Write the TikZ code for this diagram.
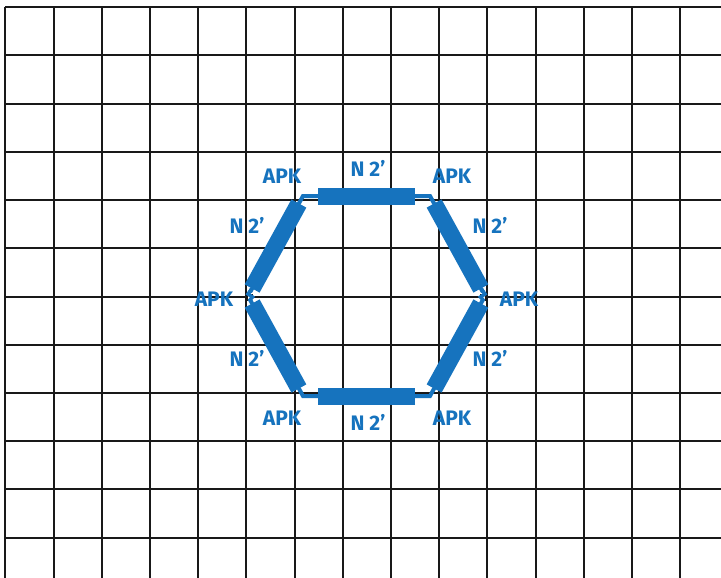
\documentclass[tikz,border=0pt]{standalone}
\usepackage{fontspec}
\newfontfamily\lblfont{Fira Sans}
\usetikzlibrary{calc}
\definecolor{hexblue}{RGB}{22,115,190}
\tikzset{
  gridline/.style={line width=2pt, black!90},
  lead/.style={line width=4pt, hexblue, line join=miter},
  jog/.style={line width=3.5pt, hexblue, line join=miter},
  bar/.style={line width=17pt, hexblue, line cap=butt},
  lbl/.style={font=\lblfont\bfseries\fontsize{21}{21}\selectfont, text=hexblue, inner sep=0pt, anchor=base}
}
\begin{document}
\begin{tikzpicture}[x=1pt,y=-1pt]
\useasboundingbox (0,0) rectangle (721,578);
\fill[white] (0,0) rectangle (721,578);
% grid
\foreach \k in {0,...,14} {
  \draw[gridline] ({5.3+48.2*\k},7.3) -- ({5.3+48.2*\k},578);
}
\foreach \k in {0,...,11} {
  \draw[gridline] (5.3,{7.3+48.2*\k}) -- (721,{7.3+48.2*\k});
}
% hexagon vertices
\coordinate (vL)  at (248,296);
\coordinate (vTL) at (303,196);
\coordinate (vTR) at (430,196);
\coordinate (vR)  at (485,296);
\coordinate (vBR) at (430,396);
\coordinate (vBL) at (303,396);
% leads
\draw[lead] (vL) -- (vTL) -- (vTR) -- (vR) -- (vBR) -- (vBL) -- cycle;
% bars
\foreach \a/\b/\n in {vL/vTL/e1, vTL/vTR/e2, vTR/vR/e3, vR/vBR/e4, vBR/vBL/e5, vBL/vL/e6} {
  \coordinate (\n) at ($(\a)!0.5!(\b)$);
  \draw[bar] ($(\n)!48.5pt!(\a)$) -- ($(\n)!48.5pt!(\b)$);
}
% small jogs at the side vertices
\fill[white] ($(vL)+(-2,-3)$) rectangle ($(vL)+(4,3)$);
\draw[gridline] ($(vL)+(-1.5,-4)$) -- ($(vL)+(-1.5,5)$);
\draw[gridline] ($(vL)+(-3,-1)$) -- ($(vL)+(5,-1)$);
\draw[jog] ($(vL)+(3.5,-7)$) -- ($(vL)+(0,-2)$) -- ($(vL)+(4.5,1)$) -- ($(vL)+(1,5)$);
\fill[white] ($(vR)+(-4,-3)$) rectangle ($(vR)+(2,3)$);
\draw[gridline] ($(vR)+(1,-4)$) -- ($(vR)+(1,5)$);
\draw[gridline] ($(vR)+(-5,-1)$) -- ($(vR)+(3,-1)$);
\draw[jog] ($(vR)+(-3.5,-7)$) -- ($(vR)+(0,-2)$) -- ($(vR)+(-4.5,1)$) -- ($(vR)+(-1,5)$);
% labels
\node[lbl] (aTL) at (282,183) {APK};
\node[lbl] (nT)  at (368,176) {N 2’};
\node[lbl] (aTR) at (452,183) {APK};
\node[lbl] (nUR) at (490,233) {N 2’};
\node[lbl] (aR)  at (519,306) {APK};
\node[lbl] (nUL) at (247,233) {N 2’};
\node[lbl] (aL)  at (214,306) {APK};
\node[lbl] (nLL) at (247,366) {N 2’};
\node[lbl] (aBL) at (282,425) {APK};
\node[lbl] (nB)  at (368,430) {N 2’};
\node[lbl] (aBR) at (452,425) {APK};
\node[lbl] (nLR) at (490,366) {N 2’};
\end{tikzpicture}
\end{document}
